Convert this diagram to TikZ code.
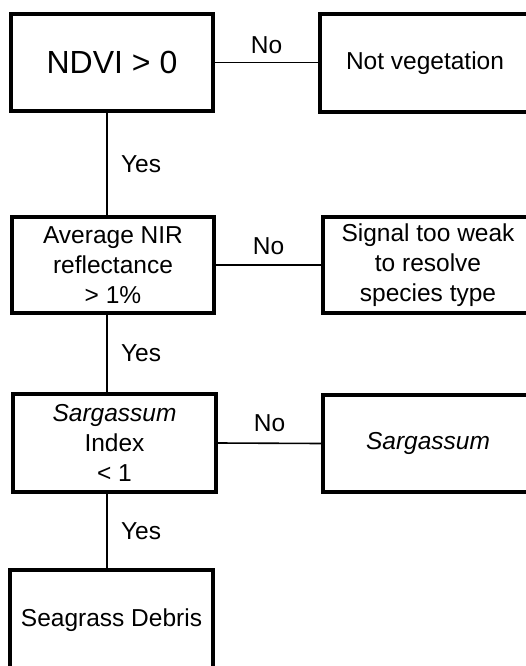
\documentclass[tikz,border=0pt]{standalone}
\usepackage{fontspec}
\setmainfont{Liberation Sans}
\begin{document}
\begin{tikzpicture}[x=1pt, y=-1pt, line width=1.6pt, box node/.style={rectangle,draw,line width=4pt,minimum width=202pt,minimum height=97pt,inner sep=0pt,align=center,font=\fontsize{24.5}{30}\selectfont}, lab/.style={font=\fontsize{24.5}{30}\selectfont}]%
\useasboundingbox (0,0) rectangle (526,666);
\clip (0,0) rectangle (526,666);
\begin{scope}
\node[box node,font=\fontsize{32}{38}\selectfont] (ndvi) at (112,62.5) {NDVI > 0};
\node[box node,minimum width=210pt,minimum height=98pt] (notveg) at (425,63) {Not vegetation};
\node[box node,minimum height=96pt] (nir) at (113,265) {Average NIR\\reflectance\\> 1\%};
\node[box node,minimum width=210pt,minimum height=96pt] (weak) at (428,265) {Signal too weak\\to resolve\\species type};
\node[box node,minimum width=203pt,minimum height=98pt] (sargidx) at (114.5,443) {\textit{Sargassum}\\Index\\< 1};
\node[box node,minimum width=210pt,minimum height=97pt] (sarg) at (428,443.5) {\textit{Sargassum}};
\node[box node,minimum width=203pt,minimum height=100pt] (debris) at (111.5,620) {Seagrass Debris};
%\node[box node] (v) at (,) {};
\end{scope}
\begin{scope}
\draw (ndvi.east) -- node[lab,above=5pt]{No} (notveg.west |- ndvi.east);
\draw (nir.east) -- node[lab,above=6pt]{No} (weak.west);
\draw (sargidx.east) -- node[lab,above=7pt]{No} (sarg.west);
\draw ([xshift=-5pt]ndvi.south) -- node[lab,right=10pt]{Yes} ([xshift=-6pt]nir.north);
\draw ([xshift=-6pt]nir.south) -- node[lab,right=10pt]{Yes} ([xshift=-7.5pt]sargidx.north);
\draw ([xshift=-7.5pt]sargidx.south) -- node[lab,right=10pt]{Yes} ([xshift=-4.5pt]debris.north);
%\draw (v) -- node{} (v);
\end{scope}
\end{tikzpicture}
\end{document}
